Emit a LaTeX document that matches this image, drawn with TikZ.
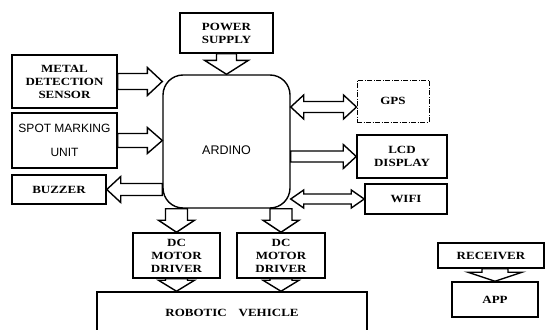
\documentclass[tikz,border=0pt]{standalone}
\usepackage{fontspec}
\setmainfont{Liberation Serif}
\newfontfamily\boxfont{Liberation Serif}[FakeStretch=1.18]
\newfontfamily\arialfont{Liberation Sans}
\usetikzlibrary{calc}

\tikzset{
  fat shaft/.store in=\fatw, fat shaft=7pt,
  fat head/.store in=\fath, fat head=14pt,
  fat len/.store in=\fatl, fat len=14pt,
  fat/.style={draw, line width=1.4pt, to path={
      ($(\tikztotarget)!\fatl!(\tikztostart)$) coordinate (fh)
      ($(\tikztostart)!\fatw!90:(\tikztotarget)$)
      -- ($(fh)!\fatw!90:(\tikztotarget)$) -- ($(fh)!\fath!90:(\tikztotarget)$)
      -- (\tikztotarget)
      -- ($(fh)!\fath!-90:(\tikztotarget)$) -- ($(fh)!\fatw!-90:(\tikztotarget)$)
      -- ($(\tikztostart)!\fatw!-90:(\tikztotarget)$) -- cycle}},
  fatboth/.style={draw, line width=1.4pt, to path={
      ($(\tikztostart)!\fatl!(\tikztotarget)$) coordinate (fs)
      ($(\tikztotarget)!\fatl!(\tikztostart)$) coordinate (fh)
      (\tikztostart)
      -- ($(fs)!\fath!90:(\tikztotarget)$) -- ($(fs)!\fatw!90:(\tikztotarget)$)
      -- ($(fh)!\fatw!90:(\tikztotarget)$) -- ($(fh)!\fath!90:(\tikztotarget)$)
      -- (\tikztotarget)
      -- ($(fh)!\fath!-90:(\tikztotarget)$) -- ($(fh)!\fatw!-90:(\tikztotarget)$)
      -- ($(fs)!\fatw!-90:(\tikztotarget)$) -- ($(fs)!\fath!-90:(\tikztotarget)$)
      -- cycle}},
  box/.style 2 args={draw, line width=1.5pt, inner sep=0pt, align=center,
    minimum width=#1pt, minimum height=#2pt,
    font=\boxfont\bfseries\fontsize{11}{13}\selectfont}
}

\begin{document}
\begin{tikzpicture}[x=1pt, y=-1pt]
  \useasboundingbox (0,0) rectangle (545,329);
  \clip (0,0) rectangle (545,329);
  % controller
  \node[draw, line width=1.4pt, rounded corners=20pt, minimum width=127pt, minimum height=133pt,
    label={[font=\arialfont\fontsize{12.5}{14}\selectfont, yshift=-9pt]center:ARDINO}]
    (ardino) at (226.5,141.5) {};
  % blocks
  \node[box={93}{40}] (power) at (226.5,33) {POWER\\SUPPLY};
  \node[box={105}{53}] (metal) at (64.5,81.5) {METAL\\DETECTION\\SENSOR};
  \node[box={105}{55}, font=\arialfont\fontsize{12}{24}\selectfont] (spot) at (64.5,140.5) {SPOT MARKING\\UNIT};
  \node[box={94}{29}] (buzzer) at (59,189.5) {BUZZER};
  \node[box={72}{42}, line width=1pt, dash pattern=on 5pt off 1.5pt on 1pt off 1.5pt] (gps) at (393,101) {GPS};
  \node[box={90}{43}] (lcd) at (402,156.5) {LCD\\DISPLAY};
  \node[box={82}{30}] (wifi) at (406,199) {WIFI};
  \node[box={87}{45}] (dca) at (176.5,255.5) {DC\\MOTOR\\DRIVER};
  \node[box={88}{45}] (dcb) at (281,255.5) {DC\\MOTOR\\DRIVER};
  \node[box={270}{42}] (vehicle) at (232,313) {ROBOTIC\hspace{12pt}VEHICLE};
  \node[box={106}{25}] (receiver) at (491,255.5) {RECEIVER};
  \node[box={86}{35}] (app) at (495,299.5) {APP};
  % arrows
  \coordinate (gpsin) at ([yshift=-6pt]gps.west);
  \draw[fat, fat shaft=10pt, fat head=22pt, fat len=14pt] (power.south) to (power.south |- ardino.north);
  \draw[fat, fat shaft=8pt, fat head=14pt, fat len=15pt] (metal.east) to (metal.east -| ardino.west);
  \draw[fat, fat shaft=7pt, fat head=13pt, fat len=15pt] (spot.east) to (spot.east -| ardino.west);
  \draw[fat, fat shaft=6pt, fat head=13pt, fat len=14pt] (buzzer.east -| ardino.west) to (buzzer.east);
  \draw[fatboth, fat shaft=5.5pt, fat head=12pt, fat len=13pt] (gpsin -| ardino.east) to (gpsin);
  \draw[fat, fat shaft=5.5pt, fat head=12pt, fat len=13pt] (lcd.west -| ardino.east) to (lcd.west);
  \draw[fatboth, fat shaft=5pt, fat head=9pt, fat len=13pt] (wifi.west -| ardino.east) to (wifi.west);
  \draw[fat, fat shaft=11pt, fat head=18pt, fat len=12pt] (ardino.south -| dca.north) to (dca.north);
  \draw[fat, fat shaft=11pt, fat head=18pt, fat len=12pt] (ardino.south -| dcb.north) to (dcb.north);
  \draw[fat, fat shaft=11pt, fat head=18pt, fat len=11pt] (dca.south) to (dca.south |- vehicle.north);
  \draw[fat, fat shaft=11pt, fat head=18pt, fat len=11pt] (dcb.south) to (dcb.south |- vehicle.north);
  \draw[fat, fat shaft=13pt, fat head=27pt, fat len=9pt] (receiver.south -| app.north) to (app.north);
\end{tikzpicture}
\end{document}
